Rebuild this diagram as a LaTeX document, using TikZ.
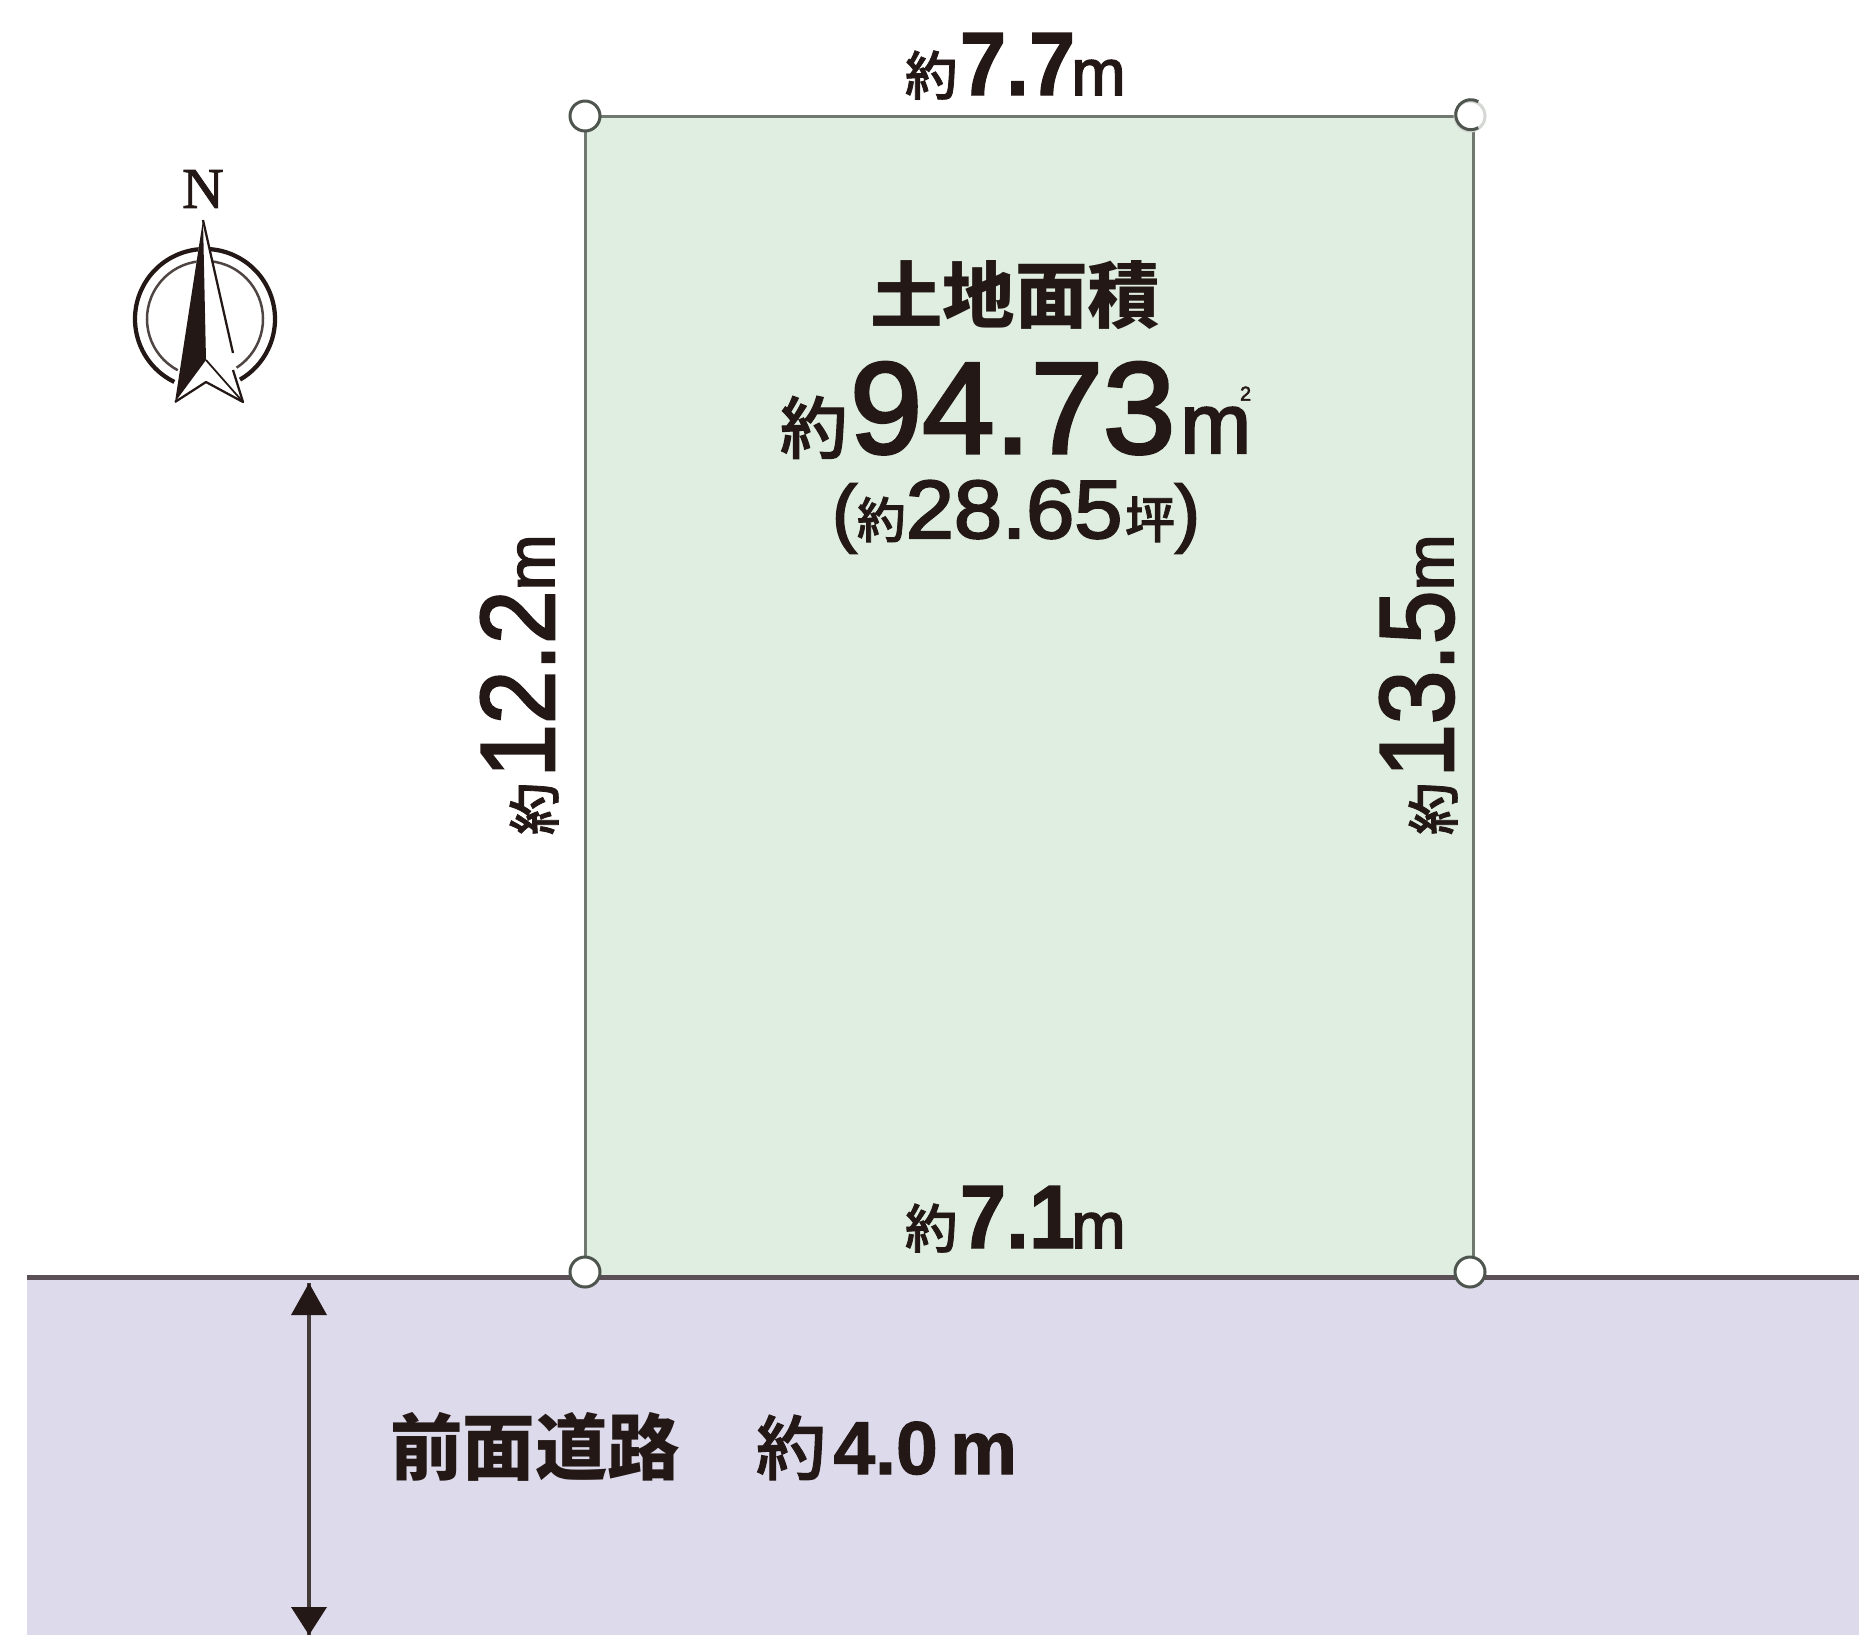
\documentclass[tikz,border=0pt]{standalone}
\usepackage{fontspec}
\setmainfont{Liberation Sans}
\newfontfamily\ja{Noto Sans CJK JP}
\newfontfamily\jam{Noto Sans CJK JP Medium}[FakeBold=1.5]
\newfontfamily\lat{Liberation Sans}[BoldFeatures={FakeBold=1.5}]
\newfontfamily\latm{Liberation Sans}[FakeBold=2.5]
\newfontfamily\serifn{Liberation Serif}[FakeBold=1.5]
\definecolor{ink}{HTML}{231815}
\definecolor{lotgreen}{HTML}{DFEEE0}
\definecolor{roadblue}{HTML}{DCDAEB}
\definecolor{lotline}{HTML}{70786F}
\definecolor{roadline}{HTML}{5A5055}
\newcommand\sz[1]{\fontsize{#1}{#1}\selectfont}
\newcommand\yaku[1]{{\jam\sz{#1}約}}
\newcommand\dimtext[1]{\yaku{21}\hspace{1pt}{\lat\bfseries\sz{36}\scalebox{0.92}[1]{#1}}\hspace{-1.5pt}{\latm\sz{26}m}}
\newcommand\sidetext[1]{\yaku{21}\hspace{2pt}{\latm\sz{42}\scalebox{0.915}[1]{#1}}{\latm\sz{27}m}}
\tikzset{
  lbl/.style={inner sep=0pt,outer sep=0pt,text=ink,anchor=base west},
  corner/.style={circle,draw=lotline!70!black,fill=white,line width=1.2pt,minimum size=12pt,inner sep=0pt},
  lotbox/.style={fill=lotgreen,draw=lotline,line width=1.2pt},
}
\begin{document}
\begin{tikzpicture}[x=0.4pt,y=-0.4pt]
\useasboundingbox (0,0) rectangle (1859,1635);
% road
\fill[roadblue] (27,1277) rectangle (1859,1635);
\coordinate (roadL) at (27,1277);
\coordinate (roadR) at (1859,1277);
\draw[roadline,line width=2pt] (roadL) -- (roadR);
% lot
\path[lotbox] (585,116) rectangle (1473,1277);
\draw[roadline,line width=2pt] (585,1277) -- (1473,1277);
\node[corner] (c1) at (585,116) {};
\node[corner,draw=lotline!30] (c2) at (1470,116) {};
\draw[lotline!70!black,line width=1.2pt] (c2.60) arc[start angle=-60,end angle=-300,radius=15];
\node[corner] (c3) at (585,1272) {};
\node[corner] (c4) at (1470,1272) {};
% road width arrow
\coordinate (arT) at (309,1283);
\coordinate (arB) at (309,1635);
\draw[ink!85!white,line width=1.3pt] (arT) -- (arB);
\fill[ink] (arT) -- (327,1315) -- (291,1315) -- cycle;
\fill[ink] (arB) -- (327,1607) -- (291,1607) -- cycle;
% labels
\node[lbl] (top) at (905,95) {\dimtext{7.7}};
\node[lbl] (bot) at (905,1248) {\dimtext{7.1}};
\node[lbl,rotate=90] (left) at (554,835) {\sidetext{12.2}};
\node[lbl,rotate=90] (right) at (1453,835) {\sidetext{13.5}};
\node[lbl] (title) at (870,322) {\ja\bfseries\sz{29}土地面積};
\node[lbl] (area) at (780,453) {\yaku{27}\hspace{1pt}{\latm\sz{52}94.73}\hspace{2pt}{\latm\sz{34}m\llap{\raisebox{21pt}{\sz{8}2}}}};
\node[lbl] (tsubo) at (832,538) {{\latm\sz{30}(}\yaku{19.5}{\latm\sz{33}\scalebox{1.05}[1]{28.65}}\hspace{1pt}{\jam\sz{20}坪}{\latm\sz{30})}};
\node[lbl] (road) at (390,1474) {\ja\bfseries\sz{29}前面道路};
\node[lbl] (roadw) at (756,1474) {\yaku{28}\hspace{3pt}{\lat\bfseries\sz{30}4.0}\hspace{5pt}{\lat\bfseries\sz{30}m}};
% compass
\draw[ink,line width=1.7pt] (205,319) ++(116:70) arc[start angle=116,end angle=420,radius=70];
\draw[ink!80!white,line width=1pt] (205,319) ++(118:58) arc[start angle=118,end angle=417,radius=58];
\fill[white] (203,220) -- (233,353) -- (233,370) -- (243,402) -- (206,382) -- (175,402) -- cycle;
\fill[ink] (203,220) -- (206,360) -- (175,402) -- cycle;
\draw[ink,line width=0.9pt,line join=round] (203,220) -- (233,353) (233,370) -- (243,402) -- (206,382) -- (175,402);
\draw[ink,line width=0.7pt] (206,360) -- (243,402);
\node[inner sep=0pt,text=ink] (north) at (203,189) {\serifn\sz{23}N};
\end{tikzpicture}
\end{document}
